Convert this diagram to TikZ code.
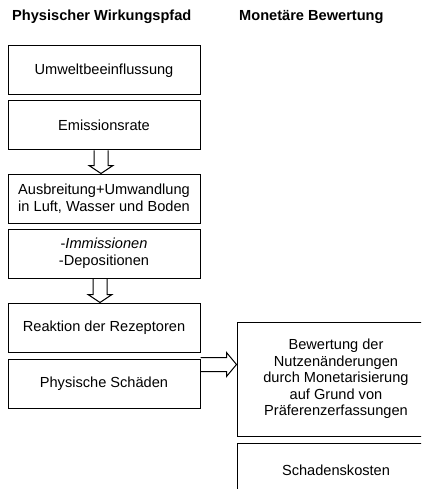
\documentclass[tikz,border=0pt]{standalone}
\usepackage{fontspec}
\setmainfont{Liberation Sans}
\usetikzlibrary{calc}
\tikzset{
  stepbox/.style={draw, line width=1pt, minimum width=192pt, minimum height=49pt, align=center, inner sep=0pt, font=\fontsize{14.6}{17}\selectfont},
  rbox/.style={draw, line width=1pt, minimum width=198pt, align=center, inner sep=0pt, font=\fontsize{14.6}{16.6}\selectfont},
  title/.style={anchor=west, inner sep=0pt, font=\bfseries\fontsize{14.6}{17}\selectfont},
  blockarrow/.style={draw, line width=1pt, line join=miter}
}
\begin{document}
\begin{tikzpicture}[x=1pt, y=-1pt]
\useasboundingbox (0,0) rectangle (421,489);
\begin{scope}
\clip (0,0) rectangle (421,489);
\node[title] (t1) at (12,17) {Physischer Wirkungspfad};
\node[title] (t2) at (239,17) {Monetäre Bewertung};

\node[stepbox] (b1) at (104,70.5) {Umweltbeeinflussung};
\node[stepbox] (b2) at (104,125.5) {Emissionsrate};
\node[stepbox] (b3) at (104,198.5) {Ausbreitung+Umwandlung\\in Luft, Wasser und Boden};
\node[stepbox] (b4) at (104,253.5) {-\textit{Immissionen}\\-Depositionen};
\node[stepbox] (b5) at (104,327.5) {Reaktion der Rezeptoren};
\node[stepbox] (b6) at (104,383.5) {Physische Schäden};

\node[rbox, minimum height=114pt] (r1) at (336,379) {Bewertung der\\Nutzenänderungen\\durch Monetarisierung\\auf Grund von\\Präferenzerfassungen};
\node[rbox, minimum height=54pt] (r2) at (336,470) {Schadenskosten};

% vertical block arrows
\coordinate (a1s) at ($(b2.south)+(-3,0)$);
\coordinate (a1t) at ($(b3.north)+(-3,0)$);
\draw[blockarrow] ($(a1s)+(-7,0)$) -- ($(a1t)+(-7,-8)$) -- ($(a1t)+(-12,-8)$) -- (a1t) -- ($(a1t)+(12,-8)$) -- ($(a1t)+(7,-8)$) -- ($(a1s)+(7,0)$);

\coordinate (a2s) at ($(b4.south)+(-4,0)$);
\coordinate (a2t) at ($(b5.north)+(-4,0)$);
\draw[blockarrow] ($(a2s)+(-7,0)$) -- ($(a2t)+(-7,-8)$) -- ($(a2t)+(-12,-8)$) -- (a2t) -- ($(a2t)+(12,-8)$) -- ($(a2t)+(7,-8)$) -- ($(a2s)+(7,0)$);

% horizontal block arrow
\coordinate (hs) at ($(b6.north east)+(0,6)$);
\coordinate (ht) at (r1.west |- hs);
\draw[blockarrow] ($(hs)+(0,-7)$) -- ($(ht)+(-10,-7)$) -- ($(ht)+(-10,-12)$) -- (ht) -- ($(ht)+(-10,12)$) -- ($(ht)+(-10,7)$) -- ($(hs)+(0,7)$);
\end{scope}
\end{tikzpicture}
\end{document}
